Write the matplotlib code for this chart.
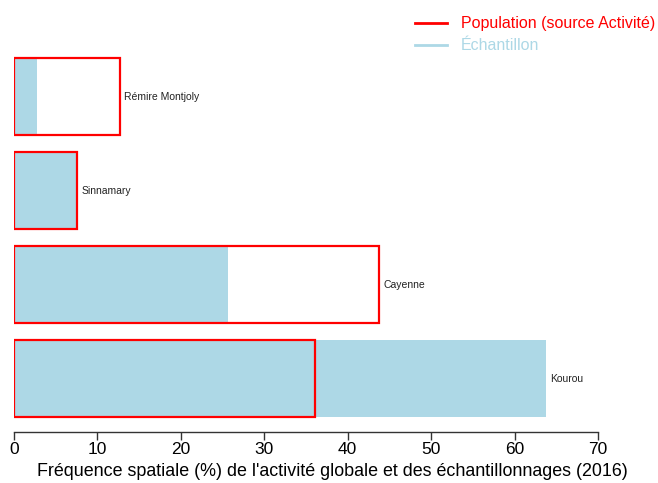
import matplotlib
matplotlib.use("Agg")
import matplotlib.pyplot as plt
from matplotlib.lines import Line2D

plt.rcParams['font.family'] = ['Liberation Sans', 'DejaVu Sans']

categories = ["Kourou", "Cayenne", "Sinnamary", "Rémire Montjoly"]
echantillon = [63.8, 25.6, 7.6, 2.8]
population = [36.1, 43.8, 7.6, 12.7]
xticks = [0, 10, 20, 30, 40, 50, 60, 70]

fig = plt.figure(figsize=(6.58, 4.83), dpi=100)
ax = fig.add_axes([14/658, 1-432/483, 584/658, (432-50)/483])

pos = list(range(len(categories)))
h = 0.82
ax.barh(pos, echantillon, height=h, color='lightblue', edgecolor='none', zorder=1)
ax.barh(pos, population, height=h, facecolor='none', edgecolor='red', linewidth=1.6, zorder=2)

for p, s, q, name in zip(pos, echantillon, population, categories):
    ax.text(max(s, q) + 0.5, p, name, va='center', ha='left', fontsize=7.5, color='#222222')

ax.set_xlim(0, 70)
ax.set_ylim(-0.569, 3.495)
ax.set_xticks(xticks)
ax.set_xticklabels([str(t) for t in xticks], fontsize=12.5)
ax.set_yticks([])
for s in ['top', 'right', 'left']:
    ax.spines[s].set_visible(False)
ax.spines['bottom'].set_linewidth(1)
ax.spines['bottom'].set_color('#333333')
ax.tick_params(axis='x', length=6, width=1, pad=1, color='#333333')
fig.text(332/658, 1-471/483, "Fréquence spatiale (%) de l'activité globale et des échantillonnages (2016)",
         fontsize=12.9, ha='center', va='center')

handles = [Line2D([], [], color='red', lw=2), Line2D([], [], color='lightblue', lw=2)]
leg = fig.legend(handles, ["Population (source Activité)", "Échantillon"], loc='upper left',
                 bbox_to_anchor=(404/658, 1-5/483), frameon=False, fontsize=11.5,
                 handlelength=2.0, handletextpad=0.85, labelspacing=0.45, borderpad=0.2)
for t, c in zip(leg.get_texts(), ['red', 'lightblue']):
    t.set_color(c)

fig.savefig("out.png", dpi=100)
